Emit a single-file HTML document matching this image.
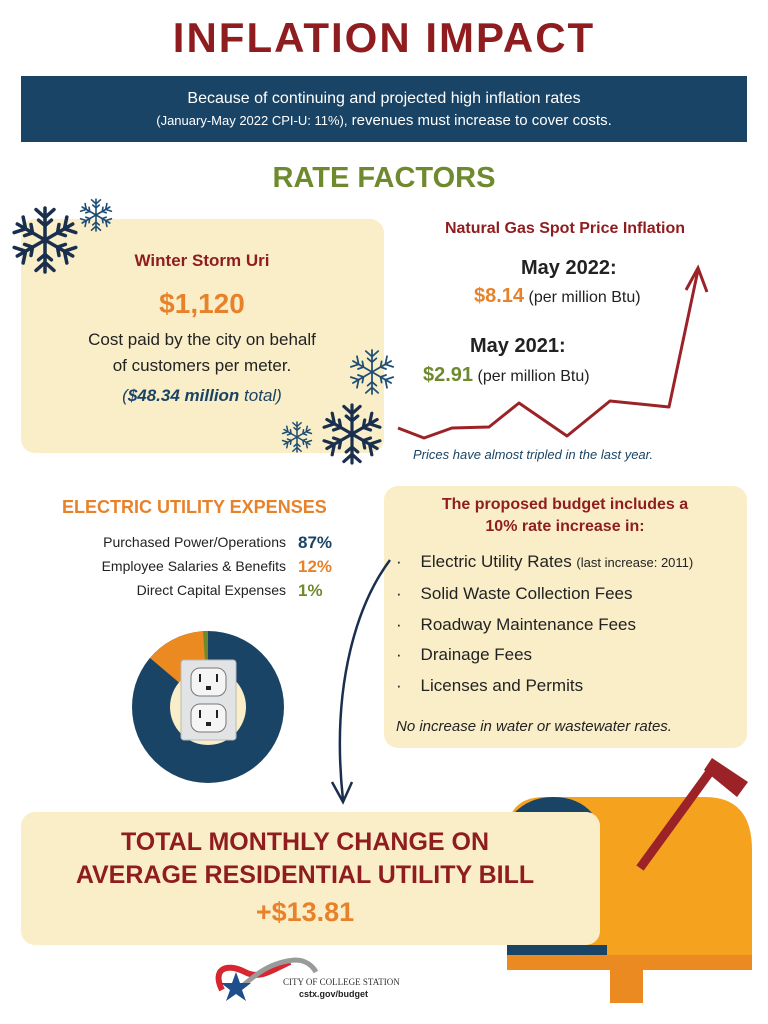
<!DOCTYPE html>
<html><head><meta charset="utf-8"><style>
body{margin:0;background:#fff;}
#p{position:relative;width:768px;height:1024px;overflow:hidden;background:#fff;font-family:"Liberation Sans",sans-serif;}
.t{position:absolute;white-space:nowrap;line-height:1;}
.c{transform:translateX(-50%);}
</style></head><body><div id="p">
<svg width="768" height="1024" style="position:absolute;left:0;top:0">
<defs>
<g id="sf" stroke-linecap="round" fill="none">
 <g id="arm"><line x1="0" y1="0" x2="0" y2="-1"/><polyline points="-0.28,-0.95 0,-0.7 0.28,-0.95"/><polyline points="-0.2,-0.62 0,-0.45 0.2,-0.62"/></g>
 <use href="#arm" transform="rotate(60)"/><use href="#arm" transform="rotate(120)"/><use href="#arm" transform="rotate(180)"/><use href="#arm" transform="rotate(240)"/><use href="#arm" transform="rotate(300)"/>
</g>
</defs>
<rect x="21" y="76" width="726" height="66" fill="#1a4466"/>
<rect x="21" y="219" width="363" height="234" rx="14" fill="#f9eec8"/>
<rect x="384" y="486" width="363" height="262" rx="14" fill="#f9eec8"/>
<g stroke="#1a2f4e"><use href="#sf" transform="translate(45,240) scale(32)" stroke-width="0.11"/>
<use href="#sf" transform="translate(352,434) scale(29)" stroke-width="0.11"/></g>
<g stroke="#1f4e74"><use href="#sf" transform="translate(96,215) scale(16)" stroke-width="0.1"/>
<use href="#sf" transform="translate(372,372) scale(22)" stroke-width="0.08"/>
<use href="#sf" transform="translate(297,437) scale(15)" stroke-width="0.1"/></g>
<polyline points="398,428 424,438 452,428 489,427 519,403 567,436 610,401 669,407 698,270" fill="none" stroke="#9b2226" stroke-width="3" stroke-linejoin="round"/>
<polyline points="686,290 698,268 707,292" fill="none" stroke="#9b2226" stroke-width="3"/>
<circle cx="208" cy="707" r="76" fill="#1a4466"/>
<path d="M208,707 L208,631 A76,76 0 0 0 150,658 Z" fill="#ec8a22"/>
<path d="M208,707 L208,631 A76,76 0 0 0 203,631 Z" fill="#6f8a2e"/>
<circle cx="208" cy="707" r="38" fill="#f9eec8"/>
<rect x="181" y="660" width="55" height="80" rx="3" fill="#e2e3e5" stroke="#b8b9bb"/>
<rect x="191" y="668" width="35" height="28" rx="9" fill="#f5f5f5" stroke="#777"/>
<rect x="191" y="704" width="35" height="28" rx="9" fill="#f5f5f5" stroke="#777"/>
<g fill="#222"><rect x="199" y="674" width="2" height="8"/><rect x="216" y="674" width="2" height="8"/><rect x="206" y="686" width="5" height="4"/>
<rect x="199" y="710" width="2" height="8"/><rect x="216" y="710" width="2" height="8"/><rect x="206" y="722" width="5" height="4"/></g>
<path d="M390,560 C360,600 330,680 343,800" fill="none" stroke="#1a2f4e" stroke-width="2.5"/>
<polyline points="332,782 343,802 352,782" fill="none" stroke="#1a2f4e" stroke-width="2.5"/>
<path d="M507,955 L507,835 Q507,797 545,797 L705,797 Q752,797 752,850 L752,955 Z" fill="#f5a21e"/>
<path d="M514,813 Q530,797 553,797 Q578,797 592,813 Z" fill="#1a4466"/>
<rect x="507" y="945" width="100" height="10" fill="#1a4466"/>
<rect x="507" y="955" width="245" height="15" fill="#ec8a22"/>
<rect x="610" y="970" width="33" height="33" fill="#ec8a22"/>
<rect x="21" y="812" width="579" height="133" rx="14" fill="#f9eec8"/>
<line x1="640" y1="868" x2="715" y2="765" stroke="#9b2226" stroke-width="9"/>
<polygon points="712,758 748,782 737,797 704,770" fill="#9b2226"/>
<path d="M222,990 C212,970 225,962 245,972 C260,980 272,970 290,962" fill="none" stroke="#d7262f" stroke-width="6"/>
<path d="M240,988 C255,975 270,962 295,960 C305,960 312,965 316,972" fill="none" stroke="#9a9a9a" stroke-width="5"/>
<polygon points="236,972 240,983 251,983 242,990 246,1001 236,994 226,1001 230,990 221,983 232,983" fill="#1f4e8c"/>
</svg>
<div class="t c" style="left:384px;top:17px;font-size:42px;font-weight:bold;color:#8f1d1f;letter-spacing:2px">INFLATION IMPACT</div>
<div class="t c" style="left:384px;top:91px;font-size:16px;color:#fff">Because of continuing and projected high inflation rates</div>
<div class="t c" style="left:384px;top:113px;font-size:15px;color:#fff"><span style="font-size:13px">(January-May 2022 CPI-U: 11%),</span> revenues must increase to cover costs.</div>
<div class="t c" style="left:384px;top:164px;font-size:29px;font-weight:bold;color:#6f8a2e">RATE FACTORS</div>
<div class="t c" style="left:202px;top:252px;font-size:17px;font-weight:bold;color:#8f1d1f">Winter Storm Uri</div>
<div class="t c" style="left:202px;top:290px;font-size:28px;font-weight:bold;color:#e8822a">$1,120</div>
<div class="t c" style="left:202px;top:331px;font-size:17px;color:#222">Cost paid by the city on behalf</div>
<div class="t c" style="left:202px;top:357px;font-size:17px;color:#222">of customers per meter.</div>
<div class="t c" style="left:202px;top:387px;font-size:17px;font-style:italic;color:#1a4466">(<b>$48.34 million</b> total)</div>
<div class="t c" style="left:565px;top:221px;font-size:16px;font-weight:bold;color:#8f1d1f">Natural Gas Spot Price Inflation</div>
<div class="t" style="left:521px;top:258px;font-size:20px;font-weight:bold;color:#222">May 2022:</div>
<div class="t" style="left:474px;top:286px;font-size:16px;color:#222"><b style="font-size:20px;color:#e8822a">$8.14</b> (per million Btu)</div>
<div class="t" style="left:470px;top:336px;font-size:20px;font-weight:bold;color:#222">May 2021:</div>
<div class="t" style="left:423px;top:365px;font-size:16px;color:#222"><b style="font-size:20px;color:#6f8a2e">$2.91</b> (per million Btu)</div>
<div class="t" style="left:413px;top:448px;font-size:13px;font-style:italic;color:#1a4466">Prices have almost tripled in the last year.</div>
<div class="t" style="left:62px;top:498px;font-size:18px;font-weight:bold;color:#e8822a">ELECTRIC UTILITY EXPENSES</div>
<div class="t" style="right:482px;top:535px;font-size:14px;color:#222">Purchased Power/Operations</div>
<div class="t" style="right:482px;top:559px;font-size:14px;color:#222">Employee Salaries &amp; Benefits</div>
<div class="t" style="right:482px;top:583px;font-size:14px;color:#222">Direct Capital Expenses</div>
<div class="t" style="left:298px;top:534px;font-size:17px;font-weight:bold;color:#1a4466">87%</div>
<div class="t" style="left:298px;top:558px;font-size:17px;font-weight:bold;color:#e8822a">12%</div>
<div class="t" style="left:298px;top:582px;font-size:17px;font-weight:bold;color:#6f8a2e">1%</div>
<div class="t c" style="left:565px;top:497px;font-size:16px;font-weight:bold;color:#8f1d1f">The proposed budget includes a</div>
<div class="t c" style="left:565px;top:519px;font-size:16px;font-weight:bold;color:#8f1d1f">10% rate increase in:</div>
<div class="t" style="left:396px;top:547px;font-size:17px;color:#222;line-height:30.8px">
·&nbsp;&nbsp;&nbsp;&nbsp;Electric Utility Rates <span style="font-size:13px">(last increase: 2011)</span><br>
·&nbsp;&nbsp;&nbsp;&nbsp;Solid Waste Collection Fees<br>
·&nbsp;&nbsp;&nbsp;&nbsp;Roadway Maintenance Fees<br>
·&nbsp;&nbsp;&nbsp;&nbsp;Drainage Fees<br>
·&nbsp;&nbsp;&nbsp;&nbsp;Licenses and Permits</div>
<div class="t" style="left:396px;top:719px;font-size:15px;font-style:italic;color:#222">No increase in water or wastewater rates.</div>
<div class="t c" style="left:305px;top:830px;font-size:25px;font-weight:bold;color:#8f1d1f">TOTAL MONTHLY CHANGE ON</div>
<div class="t c" style="left:305px;top:863px;font-size:25px;font-weight:bold;color:#8f1d1f">AVERAGE RESIDENTIAL UTILITY BILL</div>
<div class="t c" style="left:305px;top:899px;font-size:27px;font-weight:bold;color:#e8822a">+$13.81</div>
<div class="t" style="left:283px;top:978px;font-size:9px;color:#333;font-family:'Liberation Serif',serif">CITY OF COLLEGE STATION</div>
<div class="t" style="left:299px;top:990px;font-size:9px;font-weight:bold;color:#222">cstx.gov/budget</div>
</div></body></html>
